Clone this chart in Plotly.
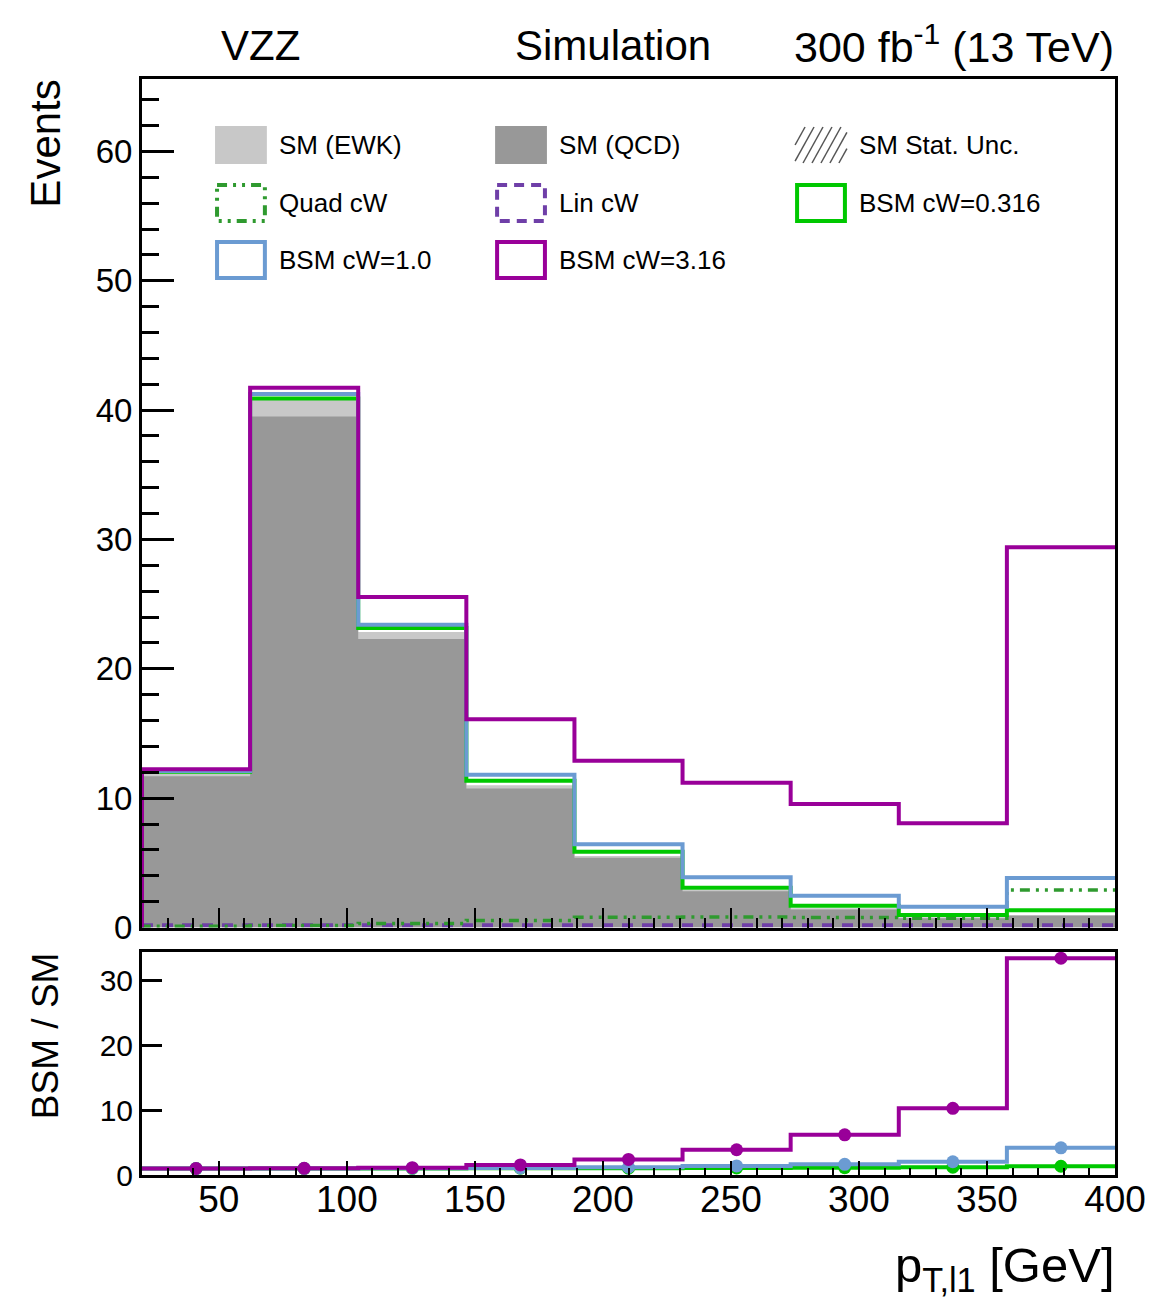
import plotly.graph_objects as go

# ---------------- data ----------------
bin_edges = [20.0, 62.22, 104.44, 146.67, 188.89, 231.11, 273.33, 315.56, 357.78, 400.0]
sm_qcd = [11.7, 39.5, 22.3, 10.75, 5.4, 2.8, 1.4, 0.72, 0.9]
sm_ewk = [0.3, 1.35, 0.55, 0.25, 0.13, 0.1, 0.08, 0.07, 0.07]
quad_cw = [0.1, 0.15, 0.3, 0.55, 0.8, 0.82, 0.78, 0.72, 2.9]
lin_cw = [0.18, 0.18, 0.18, 0.18, 0.18, 0.18, 0.18, 0.18, 0.18]
bsm_0316 = [12.05, 40.9, 23.15, 11.35, 5.85, 3.08, 1.69, 0.97, 1.33]
bsm_1 = [12.1, 41.25, 23.4, 11.8, 6.43, 3.88, 2.46, 1.61, 3.82]
bsm_316 = [12.23, 41.72, 25.56, 16.1, 12.9, 11.2, 9.55, 8.06, 29.4]

ratio_0316 = [1.0, 1.0, 1.02, 1.04, 1.06, 1.08, 1.12, 1.2, 1.35]
ratio_1 = [1.0, 1.01, 1.05, 1.08, 1.2, 1.4, 1.65, 2.05, 4.2]
ratio_316 = [1.02, 1.03, 1.13, 1.55, 2.4, 3.9, 6.2, 10.3, 33.5]

legend_labels = ["SM (EWK)", "SM (QCD)", "SM Stat. Unc.", "Quad cW", "Lin cW",
                 "BSM cW=0.316", "BSM cW=1.0", "BSM cW=3.16"]

# ---------------- style ----------------
FONT = "Liberation Sans"
C_EWK = "#c8c8c8"
C_QCD = "#989898"
C_QUAD = "#2f9a2f"
C_LIN = "#6f3fa8"
C_0316 = "#00c800"
C_1 = "#6b9bd2"
C_316 = "#990099"

W, H = 1158, 1308
L, R, T, B = 141.7, 40, 79, 133
PW = W - L - R
PH = H - T - B


def px2x(px):
    return (px - L) / PW


def py2y(py):
    return (H - B - py) / PH


top_lo = py2y(927.5)
bot_hi = py2y(951.7)


def step_top(vals):
    x = [bin_edges[0]] + list(bin_edges)
    y = [0] + list(vals) + [vals[-1]]
    return x, y


def step_ratio(vals):
    return list(bin_edges), list(vals) + [vals[-1]]


centers = [(bin_edges[i] + bin_edges[i + 1]) / 2 for i in range(len(bin_edges) - 1)]
sm_total = [a + b for a, b in zip(sm_qcd, sm_ewk)]

fig = go.Figure()

# stacked SM
x, y = step_top(sm_total)
fig.add_trace(go.Scatter(x=x, y=y, mode="lines", line=dict(shape="hv", width=0),
                         fill="tozeroy", fillcolor=C_EWK, xaxis="x", yaxis="y",
                         showlegend=False))
x, y = step_top(sm_qcd)
fig.add_trace(go.Scatter(x=x, y=y, mode="lines", line=dict(shape="hv", width=0),
                         fill="tozeroy", fillcolor=C_QCD, xaxis="x", yaxis="y",
                         showlegend=False))

lines_top = [
    (lin_cw, C_LIN, 4, "11px,9px", False),
    (quad_cw, C_QUAD, 3.5, "10px,6px,3px,6px,3px,6px", True),
    (bsm_0316, C_0316, 4, "solid", True),
    (bsm_1, C_1, 4, "solid", True),
    (bsm_316, C_316, 4, "solid", True),
]
for vals, col, lw, dash, from_zero in lines_top:
    if from_zero:
        x, y = step_top(vals)
    else:
        x, y = step_ratio(vals)
    fig.add_trace(go.Scatter(x=x, y=y, mode="lines",
                             line=dict(shape="hv", width=lw, color=col, dash=dash),
                             xaxis="x", yaxis="y", showlegend=False))

# ratio panel
for vals, col in [(ratio_0316, C_0316), (ratio_1, C_1), (ratio_316, C_316)]:
    x, y = step_ratio(vals)
    fig.add_trace(go.Scatter(x=x, y=y, mode="lines", line=dict(shape="hv", width=4, color=col),
                             xaxis="x2", yaxis="y2", showlegend=False))
    fig.add_trace(go.Scatter(x=centers, y=vals, mode="markers",
                             marker=dict(color=col, size=13),
                             xaxis="x2", yaxis="y2", showlegend=False))

axis_common = dict(showline=True, linecolor="black", linewidth=3, mirror=True,
                   showgrid=False, zeroline=False, ticks="inside", tickcolor="black")

fig.update_layout(
    width=W, height=H,
    margin=dict(l=L, r=R, t=T, b=B, pad=0),
    plot_bgcolor="white", paper_bgcolor="white",
    font=dict(family=FONT, color="black"),
    xaxis=dict(domain=[0, 1], range=[20, 400], anchor="y", showticklabels=False,
               tickvals=[50, 100, 150, 200, 250, 300, 350, 400], ticklen=20, tickwidth=2,
               minor=dict(dtick=10, tick0=0, ticklen=10, ticks="inside", tickcolor="black", tickwidth=2),
               **axis_common),
    yaxis=dict(domain=[top_lo, 1], range=[0, 65.6], anchor="x",
               tickvals=[0, 10, 20, 30, 40, 50, 60], ticklen=32, tickwidth=2.5,
               tickfont=dict(size=33, family=FONT),
               minor=dict(dtick=2, tick0=0, ticklen=17, ticks="inside", tickcolor="black", tickwidth=2.5),
               **axis_common),
    xaxis2=dict(domain=[0, 1], range=[20, 400], anchor="y2",
                tickvals=[50, 100, 150, 200, 250, 300, 350, 400], ticklen=14, tickwidth=2,
                tickfont=dict(size=37, family=FONT), ticklabelstandoff=-10,
                minor=dict(dtick=10, tick0=0, ticklen=7, ticks="inside", tickcolor="black", tickwidth=2),
                **axis_common),
    yaxis2=dict(domain=[0, bot_hi], range=[0, 34.5], anchor="x2",
                tickvals=[0, 10, 20, 30], ticklen=20, tickwidth=2.5,
                tickfont=dict(size=30, family=FONT),
                **axis_common),
)

ann = []
# header
ann.append(dict(text="VZZ", x=px2x(219), y=py2y(46), xanchor="left", yanchor="middle",
                font=dict(size=42, family=FONT)))
ann.append(dict(text="Simulation", x=px2x(514), y=py2y(46), xanchor="left", yanchor="middle",
                font=dict(size=42, family=FONT)))
ann.append(dict(text="300 fb<sup>-1</sup> (13 TeV)", x=px2x(1119), y=py2y(44),
                xanchor="right", yanchor="middle", font=dict(size=43, family=FONT)))
# axis titles
ann.append(dict(text="Events", textangle=-90, x=px2x(45), y=py2y(78), xanchor="center",
                yanchor="top", font=dict(size=42, family=FONT)))
ann.append(dict(text="BSM / SM", textangle=-90, x=px2x(45), y=py2y(950), xanchor="center",
                yanchor="top", font=dict(size=37, family=FONT)))
ann.append(dict(text="p<sub>T,l1</sub> [GeV]", x=px2x(1120), y=py2y(1268), xanchor="right",
                yanchor="middle", font=dict(size=49, family=FONT)))

shapes = []
# legend grid
col_box = [215, 496, 797]
col_txt = [277, 558, 859]
row_c = [145, 203, 260]
BW = 52

entries = [
    (0, 0, "fill", C_EWK, None),
    (0, 1, "fill", C_QCD, None),
    (0, 2, "hatch", "#555555", None),
    (1, 0, "line", C_QUAD, "10px,6px,3px,6px,3px,6px"),
    (1, 1, "line", C_LIN, "10px,7px"),
    (1, 2, "line", C_0316, "solid"),
    (2, 0, "line", C_1, "solid"),
    (2, 1, "line", C_316, "solid"),
]
for k, (r, c, kind, col, dash) in enumerate(entries):
    x0, x1 = col_box[c], col_box[c] + BW
    yc = row_c[r]
    if kind == "fill":
        y0, y1 = yc - 19, yc + 19
        shapes.append(dict(type="rect", xref="paper", yref="paper",
                           x0=px2x(x0), x1=px2x(x1), y0=py2y(y0), y1=py2y(y1),
                           fillcolor=col, line=dict(width=0)))
    elif kind == "hatch":
        y0, y1 = yc - 18, yc + 18
        for i in range(7):
            xs = x0 - 10 + i * 9
            xe = xs + 20
            ys, ye = y1, y0
            if xs < x0:
                ys = y1 - (x0 - xs) * (y1 - y0) / 20.0
                xs = x0
            if xe > x1:
                ye = y0 + (xe - x1) * (y1 - y0) / 20.0
                xe = x1
            shapes.append(dict(type="line", xref="paper", yref="paper",
                               x0=px2x(xs), x1=px2x(xe), y0=py2y(ys), y1=py2y(ye),
                               line=dict(color=col, width=1.5)))
    else:
        y0, y1 = yc - 20, yc + 20
        shapes.append(dict(type="rect", xref="paper", yref="paper",
                           x0=px2x(x0 + 2), x1=px2x(x1 - 2), y0=py2y(y0 + 2), y1=py2y(y1 - 2),
                           fillcolor="rgba(0,0,0,0)", line=dict(color=col, width=4, dash=dash)))
    ann.append(dict(text=legend_labels[k], x=px2x(col_txt[c]), y=py2y(yc), xanchor="left",
                    yanchor="middle", font=dict(size=26, family=FONT)))

for a in ann:
    a.update(xref="paper", yref="paper", showarrow=False)

fig.update_layout(annotations=ann, shapes=shapes)
fig.write_html("out.html")
